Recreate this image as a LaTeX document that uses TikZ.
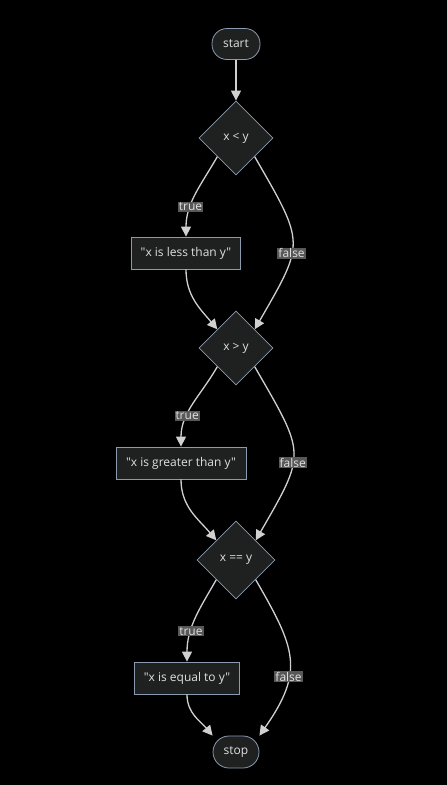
\documentclass[tikz,border=0pt]{standalone}
\usepackage{fontspec}
\setmainfont{Open Sans}[Ligatures=TeXOff]
\usetikzlibrary{shapes.geometric,arrows.meta}
\definecolor{bgc}{HTML}{000000}
\definecolor{nodefill}{HTML}{1F2020}
\definecolor{nodeline}{HTML}{8A9BB0}
\definecolor{edgec}{HTML}{D0D0D0}
\definecolor{txtc}{HTML}{E0E0E0}
\definecolor{lblbg}{HTML}{585858}
\begin{document}
\begin{tikzpicture}[x=1pt,y=-1pt,
  font=\fontsize{12}{14}\selectfont,
  base/.style={draw=nodeline,fill=nodefill,text=txtc,line width=0.8pt},
  term/.style={base,rounded corners=15pt,minimum height=31pt,inner sep=0pt},
  proc/.style={base,minimum height=32pt,inner sep=0pt},
  dec/.style={base,diamond,inner sep=0pt,minimum width=74pt,minimum height=74pt},
  arr/.style={draw=edgec,line width=1.3pt,-{Triangle[length=10pt,width=10pt]}},
  lbl/.style={fill=lblbg,text=txtc,inner sep=1pt,font=\fontsize{12}{13}\selectfont}
]
\fill[bgc] (0,0) rectangle (447,785);
\useasboundingbox (0,0) rectangle (447,785);

\node[term,minimum width=48pt] (start) at (236,44) {start};
\node[dec] (d1) at (236,138) {x < y};
\node[proc,minimum width=109pt] (b1) at (186,253) {"x is less than y"};
\node[dec] (d2) at (236,348) {x > y};
\node[proc,minimum width=130pt] (b2) at (181,463) {"x is greater than y"};
\node[dec,minimum width=78pt,minimum height=78pt] (d3) at (236,560) {x == y};
\node[proc,minimum width=105pt] (b3) at (187,678) {"x is equal to y"};
\node[term,minimum width=46pt,minimum height=32pt,rounded corners=16pt] (stop) at (236,752) {stop};

\draw[arr] (start) -- (d1);

\draw[arr] (d1.south west) to[out=-120,in=90] node[lbl,pos=0.66] {true} (b1.north);
\draw[arr] (d1.south east) to[out=-60,in=60,looseness=1.5] node[lbl,pos=0.58] {false} (d2.north east);
\draw[arr] (b1.south) to[out=-90,in=130] (d2.north west);

\draw[arr] (d2.south west) to[out=-120,in=90] node[lbl,pos=0.65] {true} (b2.north);
\draw[arr] (d2.south east) to[out=-60,in=60,looseness=1.5] node[lbl,pos=0.57] {false} (d3.north east);
\draw[arr] (b2.south) to[out=-90,in=130] (d3.north west);

\draw[arr] (d3.south west) to[out=-120,in=90] node[lbl,pos=0.66] {true} (b3.north);
\draw[arr] (d3.south east) to[out=-60,in=55,looseness=1.3] node[lbl,pos=0.63] {false} (stop.35);
\draw[arr] (b3.south) to[out=-90,in=130] (stop.145);
\end{tikzpicture}
\end{document}
